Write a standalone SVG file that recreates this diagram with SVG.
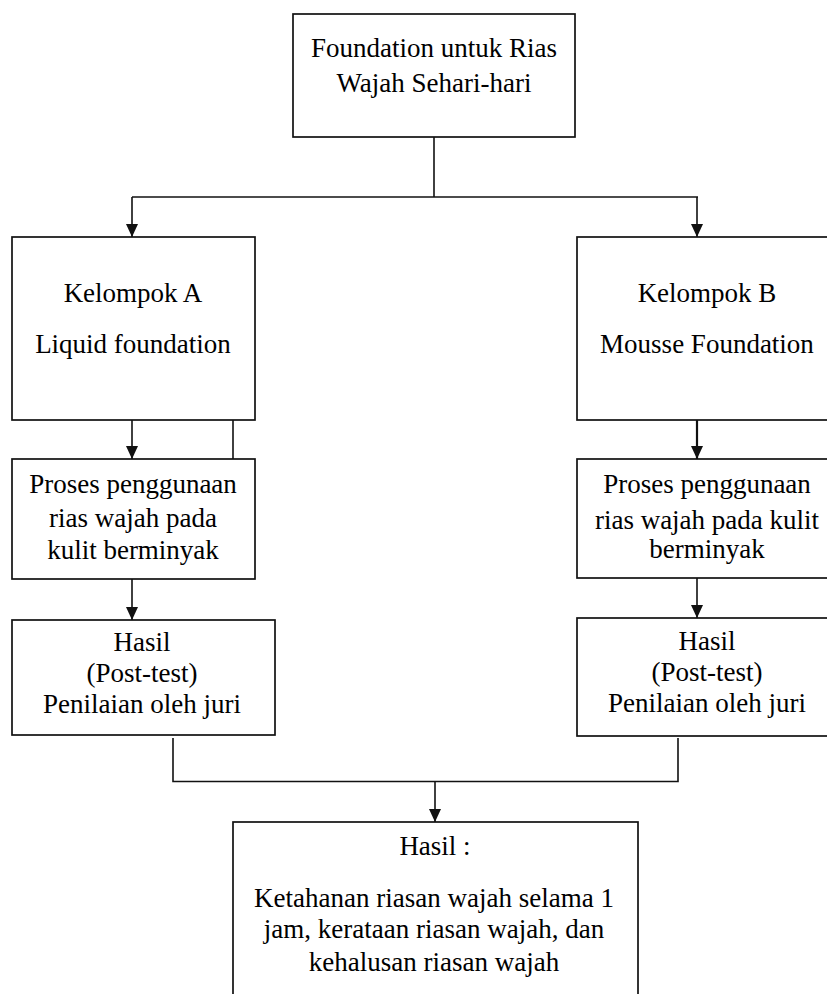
<svg xmlns="http://www.w3.org/2000/svg" width="827" height="994" viewBox="0 0 827 994">
  <style>
    .box { fill: #ffffff; stroke: #111111; stroke-width: 1.7; }
    .ln { fill: none; stroke: #111111; stroke-width: 1.6; }
    .t { font-family: "Liberation Serif", "Times New Roman", serif; font-size: 27px; fill: #000000; text-anchor: middle; }
  </style>
  <defs>
    <marker id="arr" viewBox="0 0 13 12" refX="13" refY="6" markerWidth="13" markerHeight="12" markerUnits="userSpaceOnUse" orient="auto">
      <path d="M0,0 L13,6 L0,12 Z" fill="#111111"/>
    </marker>
  </defs>
  <rect width="827" height="994" fill="#ffffff"/>

  <g id="connectors">
    <path class="ln" d="M434,137 V197"/>
    <path class="ln" d="M132,197 H698"/>
    <path class="ln" d="M132,197 V237" marker-end="url(#arr)"/>
    <path class="ln" d="M697,197 V237" marker-end="url(#arr)"/>
    <path class="ln" d="M132,420 V459" marker-end="url(#arr)"/>
    <path class="ln" d="M233,420 V459"/>
    <path class="ln" d="M697,420 V459" style="stroke-width:2.2" marker-end="url(#arr)"/>
    <path class="ln" d="M132,579 V620" marker-end="url(#arr)"/>
    <path class="ln" d="M697,578 V618" marker-end="url(#arr)"/>
    <path class="ln" d="M173,738 V781.5 H678 V738"/>
    <path class="ln" d="M435,781.5 V822" marker-end="url(#arr)"/>
  </g>

  <g id="node-top">
    <rect class="box" x="293" y="14" width="282" height="123"/>
    <text class="t" x="434" y="57">Foundation untuk Rias</text>
    <text class="t" x="434" y="92">Wajah Sehari-hari</text>
  </g>

  <g id="node-kelompok-a">
    <rect class="box" x="12" y="237" width="243" height="183"/>
    <text class="t" x="133" y="302">Kelompok A</text>
    <text class="t" x="133" y="353">Liquid foundation</text>
  </g>

  <g id="node-kelompok-b">
    <rect class="box" x="577" y="237" width="260" height="183"/>
    <text class="t" x="707" y="302">Kelompok B</text>
    <text class="t" x="707" y="353">Mousse Foundation</text>
  </g>

  <g id="node-proses-a">
    <rect class="box" x="12" y="459" width="243" height="120"/>
    <text class="t" x="133" y="493">Proses penggunaan</text>
    <text class="t" x="133" y="527">rias wajah pada</text>
    <text class="t" x="133" y="559">kulit berminyak</text>
  </g>

  <g id="node-proses-b">
    <rect class="box" x="577" y="459" width="260" height="119"/>
    <text class="t" x="707" y="493">Proses penggunaan</text>
    <text class="t" x="707" y="529">rias wajah pada kulit</text>
    <text class="t" x="707" y="558">berminyak</text>
  </g>

  <g id="node-hasil-a">
    <rect class="box" x="12" y="620" width="263" height="115"/>
    <text class="t" x="142" y="651">Hasil</text>
    <text class="t" x="142" y="682">(Post-test)</text>
    <text class="t" x="142" y="713">Penilaian oleh juri</text>
  </g>

  <g id="node-hasil-b">
    <rect class="box" x="577" y="618" width="260" height="118"/>
    <text class="t" x="707" y="650">Hasil</text>
    <text class="t" x="707" y="681">(Post-test)</text>
    <text class="t" x="707" y="712">Penilaian oleh juri</text>
  </g>

  <g id="node-hasil-akhir">
    <rect class="box" x="233" y="822" width="405" height="200"/>
    <text class="t" x="435" y="855">Hasil :</text>
    <text class="t" x="434" y="907">Ketahanan riasan wajah selama 1</text>
    <text class="t" x="434" y="938">jam, kerataan riasan wajah, dan</text>
    <text class="t" x="434" y="971">kehalusan riasan wajah</text>
  </g>
</svg>
